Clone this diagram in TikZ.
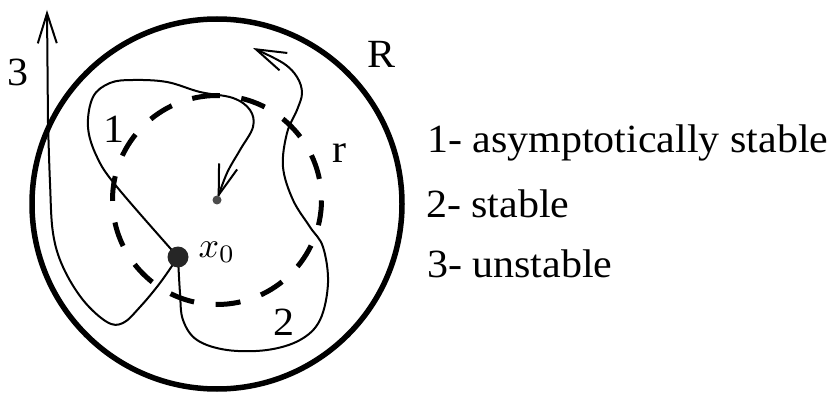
\documentclass[tikz,border=0pt]{standalone}
\usepackage{fontspec}
\setmainfont{Liberation Serif}[FakeStretch=1.05]
\usetikzlibrary{arrows.meta}

\begin{document}
\begin{tikzpicture}[x=1pt, y=-1pt,
    traj/.style={line width=2pt, line join=round},
    barb/.style={-{Straight Barb[length=30pt, width=19pt, line width=2pt]}},
    dot/.style={circle, fill=black!85, inner sep=0pt, minimum size=#1},
    lbl/.style={font=\fontsize{40}{48}\selectfont, inner sep=0pt}]
    \useasboundingbox (0,0) rectangle (828,393);

    % regions
    \coordinate (ctr) at (217,200);
    \draw[line width=5.5pt] (217,204) circle[radius=185];
    \draw[line width=5pt, dash pattern=on 25pt off 21.7pt] (ctr) ++(90:-104.5) arc[start angle=-90, delta angle=-360, radius=104.5];

    \coordinate (x0) at (178,257);
    \coordinate (tip3) at (47,10);
    \coordinate (tip2) at (253,48);

    % trajectories
    \draw[traj, barb, shorten >=2pt] plot[smooth, tension=0.6] coordinates {(x0) (117,187) (97,157) (88,127) (93,97) (110,83) (133,80) (167,82) (200,92) (233,98) (250,110) (253,127) (240,150) (227,173) (ctr)};
    \draw[traj, barb] plot[smooth, tension=0.6] coordinates {(x0) (180,293) (183,320) (197,340) (227,350) (267,350) (300,340) (320,320) (328,283) (323,247) (310,227) (293,200) (283,167) (287,133) (297,110) (302,93) (297,77) (283,63) (tip2)};
    \draw[traj, barb] plot[smooth, tension=0.6] coordinates {(x0) (160,283) (140,307) (123,323) (107,322) (83,300) (63,267) (53,233) (50,183) (48,123)} -- (tip3);

    \node[dot=21pt] (start) at (x0) {};
    \node[dot=9pt, fill=black!70] (eq) at (ctr) {};
    \node[inner sep=0pt, scale=3.6, transform shape] (x0lbl) at (217,252) {$x_0$};

    \node[lbl] (n3) at (18,72) {3};
    \node[lbl] (n1) at (114,129) {1};
    \node[lbl] (n2) at (284,322) {2};
    \node[lbl] (rr) at (339,153) {r};
    \node[lbl] (RR) at (382,54) {R};

    % legend
    \node[lbl, anchor=base west] (leg1) at (427,153) {1- asymptotically stable};
    \node[lbl, anchor=base west] (leg2) at (426,218) {2- stable};
    \node[lbl, anchor=base west] (leg3) at (427,277) {3- unstable};
\end{tikzpicture}
\end{document}
